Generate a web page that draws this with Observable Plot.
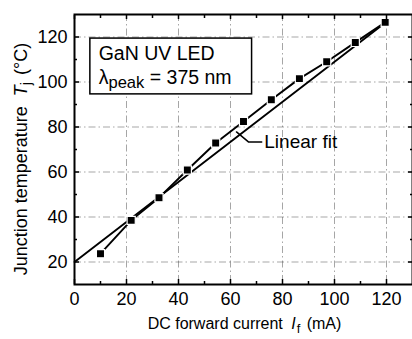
<!DOCTYPE html>
<html><head><meta charset="utf-8">
<script src="https://cdn.jsdelivr.net/npm/d3@7"></script>
<script src="https://cdn.jsdelivr.net/npm/@observablehq/plot@0.6"></script>
<style>body{margin:0;background:#fff;} svg{display:block}</style>
</head><body><div id="chart"></div>
<script>
// Data
const currentMA = [10, 21.8, 32.5, 43.4, 54.3, 65, 75.7, 86.5, 97, 108, 119.5];
const junctionC = [23.7, 38.5, 48.6, 60.9, 72.9, 82.4, 92.1, 101.5, 109, 117.6, 126.5];
const fitMA = [0, 119.5];
const fitC = [20, 126.3];
const xMajor = [0, 20, 40, 60, 80, 100, 120];
const xMinor = [10, 30, 50, 70, 90, 110];
const yMajor = [20, 40, 60, 80, 100, 120];
const yMinor = [30, 50, 70, 90, 110];
const legendBoxX = [6.1, 68.3];
const legendBoxY = [94.5, 119.3];
const leaderX = [62.3, 67, 72];
const leaderY = [77.8, 73.3, 73.3];

const points = currentMA.map((x, i) => ({x, y: junctionC[i]}));
const fit = fitMA.map((x, i) => ({x, y: fitC[i]}));
const leader = leaderX.map((x, i) => ({x, y: leaderY[i]}));

const FONT = "'Liberation Sans', Arial, Helvetica, sans-serif";
const gridStyle = {stroke: "#444", strokeWidth: 0.8, strokeOpacity: 0.6, strokeDasharray: "7,3,1.5,3"};
const blank = () => "";
const tk = (o) => ({tickFormat: blank, strokeWidth: 1.5, label: null, ...o});

const svg = Plot.plot({
  width: 412, height: 339,
  marginLeft: 74, marginRight: 0, marginTop: 14, marginBottom: 55,
  style: {fontFamily: FONT, fontSize: "18px", background: "#fff", color: "#000"},
  x: {domain: [0, 130]},
  y: {domain: [10, 130]},
  marks: [
    Plot.gridX(xMajor.filter(d => d > 0), gridStyle),
    Plot.gridY(yMajor, gridStyle),
    Plot.rect([0], {x1: legendBoxX[0], x2: legendBoxX[1], y1: legendBoxY[0], y2: legendBoxY[1], fill: "#fff", stroke: "#000", strokeWidth: 1.5}),
    Plot.line(fit, {x: "x", y: "y", stroke: "#000", strokeWidth: 1.9}),
    Plot.line(points, {x: "x", y: "y", stroke: "#000", strokeWidth: 1.9}),
    Plot.dot(points, {x: "x", y: "y", symbol: "square", r: 4.6, fill: "#000", stroke: "#fff", strokeWidth: 1.2}),
    Plot.line(leader, {x: "x", y: "y", stroke: "#000", strokeWidth: 1.5}),
    // inward ticks
    Plot.axisX(tk({anchor: "bottom", ticks: xMajor, tickSize: -5})),
    Plot.axisX(tk({anchor: "bottom", ticks: xMinor, tickSize: -3})),
    Plot.axisX(tk({anchor: "top", ticks: xMajor, tickSize: -4})),
    Plot.axisX(tk({anchor: "top", ticks: xMinor, tickSize: -3})),
    Plot.axisY(tk({anchor: "left", ticks: yMajor, tickSize: -5})),
    Plot.axisY(tk({anchor: "left", ticks: yMinor, tickSize: -3})),
    Plot.axisY(tk({anchor: "right", ticks: yMajor, tickSize: -5})),
    Plot.axisY(tk({anchor: "right", ticks: yMinor, tickSize: -3})),
    // tick labels
    Plot.axisX({anchor: "bottom", ticks: xMajor, tickSize: 0, tickPadding: 8, fontSize: 18, label: null}),
    Plot.axisY({anchor: "left", ticks: yMajor, tickSize: 0, tickPadding: 7, fontSize: 18, label: null}),
    Plot.frame({stroke: "#000", strokeWidth: 2}),
    // texts
    Plot.text(["GaN UV LED"], {x: 9.3, y: 109.6, text: d => d, textAnchor: "start", lineAnchor: "bottom", fontSize: 19.5}),
    Plot.text(["LEGEND2"], {x: 9.3, y: 99.0, text: d => d, textAnchor: "start", lineAnchor: "bottom", fontSize: 19.5}),
    Plot.text(["Linear fit"], {x: 73, y: 73.3, text: d => d, textAnchor: "start", lineAnchor: "middle", fontSize: 19}),
    Plot.text(["XLABEL"], {frameAnchor: "bottom", dy: 44, dx: 1, text: d => d, textAnchor: "middle", lineAnchor: "bottom", fontSize: 16}),
    Plot.text(["YLABEL"], {frameAnchor: "left", dx: -53, dy: 9.5, rotate: -90, text: d => d, textAnchor: "middle", lineAnchor: "middle", fontSize: 18})
  ]
});

function rich(placeholder, parts) {
  d3.select(svg).selectAll("text").filter(function() { return this.textContent === placeholder; })
    .each(function() {
      const t = d3.select(this);
      t.text(null);
      let shifted = 0;
      for (const p of parts) {
        const s = t.append("tspan").text(p.t);
        if (p.italic) s.attr("font-style", "italic");
        if (p.dx) s.attr("dx", p.dx);
        if (p.sub) {
          s.attr("font-size", p.size || "0.8em").attr("dy", p.sub);
          shifted = p.sub;
        } else if (shifted) {
          s.attr("dy", -shifted);
          shifted = 0;
        }
      }
    });
}
rich("LEGEND2", [{t: "λ"}, {t: "peak", sub: 4, size: "0.85em"}, {t: " = 375 nm"}]);
rich("XLABEL", [{t: "DC forward current "}, {t: "I", italic: true, dx: 4}, {t: "f", sub: 4, size: "0.8em", dx: 1}, {t: " (mA)", dx: 2}]);
rich("YLABEL", [{t: "Junction temperature "}, {t: "T", italic: true, dx: 5}, {t: "j", sub: 4, size: "0.8em"}, {t: " (°C)", dx: 2}]);

document.getElementById("chart").appendChild(svg);
</script>
</body></html>
